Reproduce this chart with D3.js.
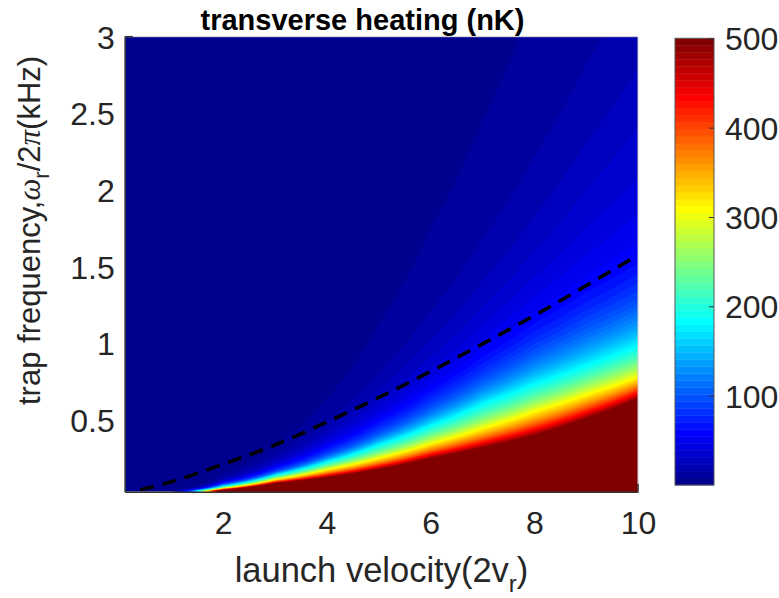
<!DOCTYPE html>
<html><head><meta charset="utf-8">
<script src="https://cdn.jsdelivr.net/npm/d3@7"></script>
<style>
body{margin:0;background:#fff}
svg{display:block}
text{font-family:"Liberation Sans",Arial,Helvetica,sans-serif}
</style>
</head><body>
<svg id="chart" width="779" height="598"></svg>
<script>
// ---- data ----
const velocity   = [0.1, 1, 2, 3, 4, 5, 6, 7, 8, 9, 10];          // launch velocity (2v_r)
const heatLevels = [492, 308, 185, 100, 62.5, 31.25, 15.6, 7.8];   // nK, iso-heating levels
// trap frequency (kHz) where heating equals each level, at each velocity
const freqAt492  = [0.0003, 0.013, 0.040, 0.085, 0.125, 0.178, 0.250, 0.320, 0.400, 0.510, 0.640];
const freqAt308  = [0.00035,0.016, 0.052, 0.110, 0.175, 0.250, 0.345, 0.445, 0.555, 0.665, 0.780];
const freqAt185  = [0.0004, 0.019, 0.065, 0.138, 0.225, 0.335, 0.460, 0.600, 0.730, 0.850, 0.980];
const freqAt100  = [0.00045,0.022, 0.078, 0.160, 0.270, 0.410, 0.575, 0.755, 0.935, 1.100, 1.260];
const freqAt62   = [0.0005, 0.025, 0.090, 0.185, 0.320, 0.490, 0.690, 0.910, 1.130, 1.330, 1.520];
const freqAt31   = [0.00055,0.028, 0.105, 0.225, 0.400, 0.630, 0.910, 1.240, 1.600, 2.000, 2.410];
const freqAt16   = [0.0006, 0.031, 0.125, 0.270, 0.490, 0.810, 1.210, 1.680, 2.220, 2.820, 3.450];
const freqAt8    = [0.0007, 0.034, 0.150, 0.330, 0.640, 1.120, 1.750, 2.450, 3.250, 4.100, 5.000];
const heatCurves = [freqAt492, freqAt308, freqAt185, freqAt100, freqAt62, freqAt31, freqAt16, freqAt8];
// dashed reference curve
const dashVel  = [0.4, 1, 2, 3, 4, 5, 6, 7, 8, 9, 10];
const dashFreq = [0.043, 0.095, 0.21, 0.335, 0.485, 0.645, 0.815, 0.995, 1.18, 1.375, 1.575];
// ticks
const xTicks = [2, 4, 6, 8, 10];
const yTicks = [0.5, 1, 1.5, 2, 2.5, 3];
const cTicks = [100, 200, 300, 400, 500];
const cRange = [0, 500];

// ---- jet(64) colormap (MATLAB) ----
function jet64(i){
  const u = k => (k>=1&&k<=16)? k/16 : (k>=17&&k<=31)? 1 : (k>=32&&k<=47)? (48-k)/16 : 0;
  const n = i+1;
  const g = u(n-8), r = u(n-24), b = u(n+8);
  return d3.rgb(r*255, g*255, b*255).formatHex();
}
const nColors = 64;

// ---- layout ----
const L = 124.7, R = 638, T = 36.7, B = 491.7;
const svg = d3.select("#chart");
const x = d3.scaleLinear().domain([0.1, 10]).range([L, R]);
const y = d3.scaleLinear().domain([0.03, 3]).range([B, T]);

// ---- field on a grid from the iso-level curves ----
const Wp = R - L, Hp = B - T, step = 1.5;
const nx = Math.round(Wp/step), ny = Math.round(Hp/step);
const values = new Float64Array(nx*ny);
const curveScales = heatCurves.map(c => d3.scaleLinear().domain(velocity).range(c.map(Math.log)));
const logLevels = heatLevels.map(Math.log);
for (let i=0;i<nx;i++){
  const v = x.invert(L + (i+0.5)*Wp/nx);
  const lf = curveScales.map(s => s(v));
  const col = d3.scaleLinear().domain(lf).range(logLevels);
  for (let j=0;j<ny;j++){
    const w = y.invert(T + (j+0.5)*Hp/ny);
    let val = Math.exp(col(Math.log(w)));
    values[j*nx+i] = Math.min(val, 600);
  }
}
const thresholds = d3.range(nColors).map(k => cRange[0] + k*(cRange[1]-cRange[0])/nColors);
const contours = d3.contours().size([nx, ny]).thresholds(thresholds)(values);
const proj = d3.geoTransform({point(px,py){ this.stream.point(L + px*Wp/nx, T + py*Hp/ny); }});
const path = d3.geoPath(proj);

svg.append("clipPath").attr("id","clip").append("rect")
  .attr("x",L).attr("y",T).attr("width",Wp).attr("height",Hp);
const field = svg.append("g").attr("clip-path","url(#clip)");
field.selectAll("path").data(contours).join("path")
  .attr("d", path).attr("fill", (d,k)=>jet64(k)).attr("stroke","none");

// dashed curve
const line = d3.line().x(d=>x(d[0])).y(d=>y(d[1])).curve(d3.curveMonotoneX);
field.append("path").datum(dashVel.map((v,k)=>[v,dashFreq[k]]))
  .attr("d", line).attr("fill","none").attr("stroke","#000")
  .attr("stroke-width",3.6).attr("stroke-dasharray","14 9");

// ---- axes ----
const txt = "#262626";
const tickFont = 32;
svg.append("line").attr("x1",L).attr("x2",R).attr("y1",T).attr("y2",T).attr("stroke","#cfcfcf").attr("stroke-width",1);
svg.append("line").attr("x1",R).attr("x2",R).attr("y1",T).attr("y2",B).attr("stroke","#cfcfcf").attr("stroke-width",1);
const xAxis = svg.append("g").attr("transform",`translate(0,${B})`)
  .call(d3.axisBottom(x).tickValues(xTicks).tickSize(0).tickPadding(0).tickFormat(d3.format("d")));
xAxis.select(".domain").attr("stroke","#333").attr("stroke-width",1.6);
xAxis.selectAll("text").attr("fill",txt).attr("font-size",tickFont).attr("dy",null).attr("y",42.5);
const yAxis = svg.append("g").attr("transform",`translate(${L},0)`)
  .call(d3.axisLeft(y).tickValues(yTicks).tickSize(0).tickPadding(0).tickFormat(d=>String(d)));
yAxis.select(".domain").attr("stroke","#333").attr("stroke-width",1.6);
yAxis.selectAll("text").attr("fill",txt).attr("font-size",tickFont).attr("x",-10).attr("dy","0.36em");
// end ticks visible above the fill
svg.append("line").attr("x1",x(10)).attr("x2",x(10)).attr("y1",B).attr("y2",B-8).attr("stroke","#333").attr("stroke-width",1.6);
svg.append("line").attr("x1",L).attr("x2",L+8).attr("y1",y(3)).attr("y2",y(3)).attr("stroke","#333").attr("stroke-width",1.6);

// labels
const xl = svg.append("text").attr("x",381.5).attr("y",581.7).attr("text-anchor","middle")
  .attr("font-size",34.5).attr("fill",txt);
xl.append("tspan").text("launch velocity(2v");
xl.append("tspan").text("r").attr("font-size",24).attr("dy",10);
xl.append("tspan").text(")").attr("dy",-10);

const yl = svg.append("text").attr("transform","translate(40,405) rotate(-90)")
  .attr("font-size",31).attr("fill",txt);
yl.append("tspan").text("trap frequency,");
yl.append("tspan").text("ω").attr("font-style","italic").attr("font-family","'Liberation Serif',serif");
yl.append("tspan").text("r").attr("font-size",22).attr("dy",9);
yl.append("tspan").text("/2").attr("dy",-9);
yl.append("tspan").text("π").attr("font-style","italic").attr("font-family","'Liberation Serif',serif");
yl.append("tspan").text("(kHz)");

svg.append("text").attr("x",362.5).attr("y",30).attr("text-anchor","middle")
  .attr("font-size",29).attr("font-weight","bold").attr("fill","#000")
  .text("transverse heating (nK)");

// ---- colorbar ----
const cbL = 675, cbR = 714, cbT = 38.3, cbB = 485;
const c = d3.scaleLinear().domain(cRange).range([cbB, cbT]);
svg.append("g").selectAll("rect").data(d3.range(nColors)).join("rect")
  .attr("x",cbL).attr("width",cbR-cbL)
  .attr("y",k=>c(thresholds[k]+(cRange[1]-cRange[0])/nColors))
  .attr("height",k=>c(thresholds[k])-c(thresholds[k]+(cRange[1]-cRange[0])/nColors)+0.4)
  .attr("fill",k=>jet64(k));
svg.append("rect").attr("x",cbL).attr("y",cbT).attr("width",cbR-cbL).attr("height",cbB-cbT)
  .attr("fill","none").attr("stroke","#555").attr("stroke-width",1);
const cAxis = svg.append("g").attr("transform",`translate(${cbR},0)`)
  .call(d3.axisRight(c).tickValues(cTicks).tickSize(-5).tickPadding(11).tickFormat(d3.format("d")));
cAxis.select(".domain").remove();
cAxis.selectAll(".tick line").attr("stroke","#333");
cAxis.selectAll("text").attr("fill",txt).attr("font-size",tickFont).attr("dy","0.36em");
</script>
</body></html>
